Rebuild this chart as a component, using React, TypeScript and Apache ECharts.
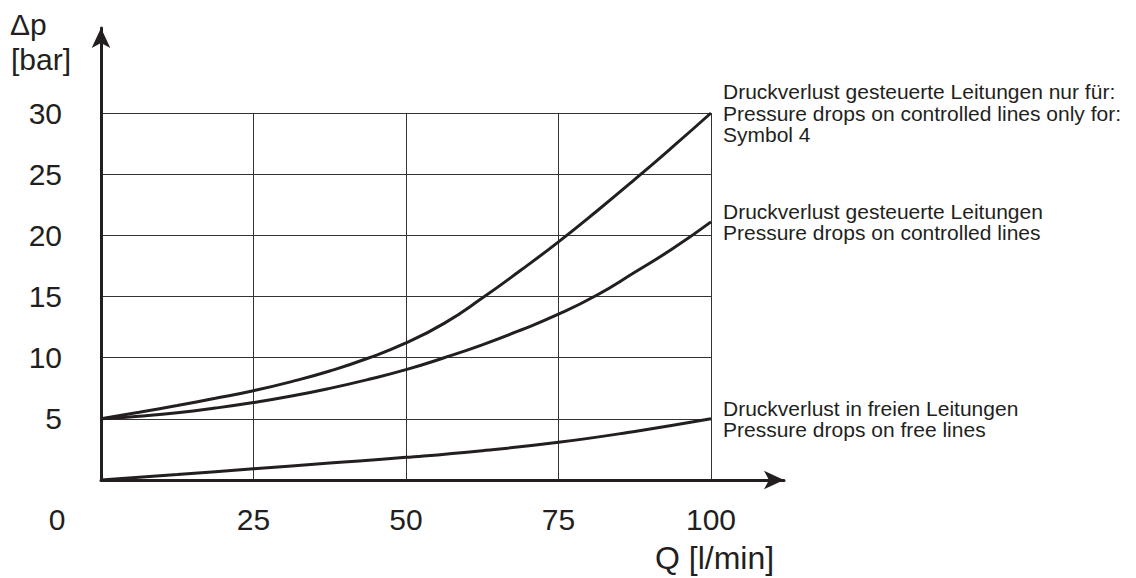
import React, { useEffect, useRef } from "react";
import * as echarts from "echarts";

// Flow Q [l/min] sample positions
const flowFine = [0, 6.25, 12.5, 18.75, 25, 31.25, 37.5, 43.75, 50, 56.25, 62.5, 68.75, 75, 81.25, 87.5, 93.75, 100];
const flowCoarse = [0, 12.5, 25, 37.5, 50, 62.5, 75, 87.5, 100];

// Pressure drop Δp [bar]
const symbol4Drop = [5.0, 5.53, 6.09, 6.68, 7.3, 8.04, 8.91, 9.95, 11.2, 12.8, 14.87, 17.12, 19.47, 21.97, 24.57, 27.25, 30.0];
const controlledDrop = [5.0, 5.22, 5.5, 5.88, 6.33, 6.86, 7.49, 8.21, 9.02, 9.99, 11.05, 12.24, 13.55, 15.1, 16.98, 18.92, 21.1];
const freeDrop = [0, 0.45, 0.92, 1.38, 1.85, 2.4, 3.08, 3.97, 5.0];

const xTicks = [0, 25, 50, 75, 100];
const yTicks = [0, 5, 10, 15, 20, 25, 30];

const labelSymbol4 =
  "Druckverlust gesteuerte Leitungen nur für:\nPressure drops on controlled lines only for:\nSymbol 4";
const labelControlled = "Druckverlust gesteuerte Leitungen\nPressure drops on controlled lines";
const labelFree = "Druckverlust in freien Leitungen\nPressure drops on free lines";

const FONT = "'Liberation Sans', Arial, Helvetica, sans-serif";
const INK = "#231f20";

function pairs(xs: number[], ys: number[]) {
  return xs.map((x, i) => [x, ys[i]]);
}

function lineSeries(name: string, xs: number[], ys: number[], label: string) {
  return {
    type: "line",
    name,
    xAxisIndex: 0,
    yAxisIndex: 0,
    data: pairs(xs, ys),
    smooth: 0.5,
    showSymbol: false,
    symbol: "none",
    lineStyle: { color: INK, width: 3 },
    endLabel: {
      show: true,
      formatter: label,
      color: INK,
      fontFamily: FONT,
      fontSize: 21,
      lineHeight: 21.5,
      align: "left",
      verticalAlign: "middle",
      distance: 12,
    },
  };
}

export default function App() {
  const ref = useRef<HTMLDivElement>(null);
  useEffect(() => {
    if (!ref.current) return;
    const chart = echarts.init(ref.current, null, { renderer: "svg" });
    const arrowAxisLine = {
      show: true,
      symbol: ["none", "arrow"],
      symbolSize: [14, 20],
      lineStyle: { color: INK, width: 3 },
    };
    chart.setOption({
      animation: false,
      backgroundColor: "#ffffff",
      textStyle: { fontFamily: FONT },
      grid: [
        { left: 101, right: 425, top: 113, bottom: 98 },
        { left: 101, right: 352, top: 28, bottom: 98 },
      ],
      xAxis: [
        {
          type: "value",
          gridIndex: 0,
          min: xTicks[0],
          max: xTicks[xTicks.length - 1],
          interval: 25,
          axisLine: { show: false },
          axisTick: { show: false },
          splitLine: { show: true, lineStyle: { color: "#333333", width: 1 } },
          axisLabel: {
            color: INK,
            fontSize: 30,
            fontFamily: FONT,
            margin: 24,
            formatter: (v: number) => (v === 0 ? "{z|0}" : String(v)),
            rich: { z: { fontSize: 30, fontFamily: FONT, color: INK, padding: [0, 88, 0, 0] } },
          },
        },
        {
          type: "value",
          gridIndex: 1,
          min: 0,
          max: 1,
          axisLine: arrowAxisLine,
          axisTick: { show: false },
          axisLabel: { show: false },
          splitLine: { show: false },
        },
      ],
      yAxis: [
        {
          type: "value",
          gridIndex: 0,
          min: yTicks[0],
          max: yTicks[yTicks.length - 1],
          interval: 5,
          axisLine: { show: false },
          axisTick: { show: false },
          splitLine: { show: true, lineStyle: { color: "#333333", width: 1 } },
          axisLabel: {
            color: INK,
            fontSize: 30,
            fontFamily: FONT,
            margin: 39,
            formatter: (v: number) => (v === 0 ? "" : String(v)),
          },
        },
        {
          type: "value",
          gridIndex: 1,
          min: 0,
          max: 1,
          axisLine: arrowAxisLine,
          axisTick: { show: false },
          axisLabel: { show: false },
          splitLine: { show: false },
        },
      ],
      graphic: [
        {
          type: "text",
          left: 10,
          top: 9,
          style: { text: "Δp", font: `30px ${FONT}`, fill: INK },
        },
        {
          type: "text",
          left: 11,
          top: 44,
          style: { text: "[bar]", font: `30px ${FONT}`, fill: INK },
        },
        {
          type: "text",
          left: 655,
          top: 542,
          style: { text: "Q [l/min]", font: `32px ${FONT}`, fill: INK },
        },
      ],
      series: [
        lineSeries("symbol4", flowFine, symbol4Drop, labelSymbol4),
        lineSeries("controlled", flowFine, controlledDrop, labelControlled),
        lineSeries("free", flowCoarse, freeDrop, labelFree),
      ],
    });
    return () => chart.dispose();
  }, []);
  return (
    <div
      ref={ref}
      style={{ position: "fixed", left: 0, top: 0, width: 1136, height: 578, background: "#fff" }}
    />
  );
}
